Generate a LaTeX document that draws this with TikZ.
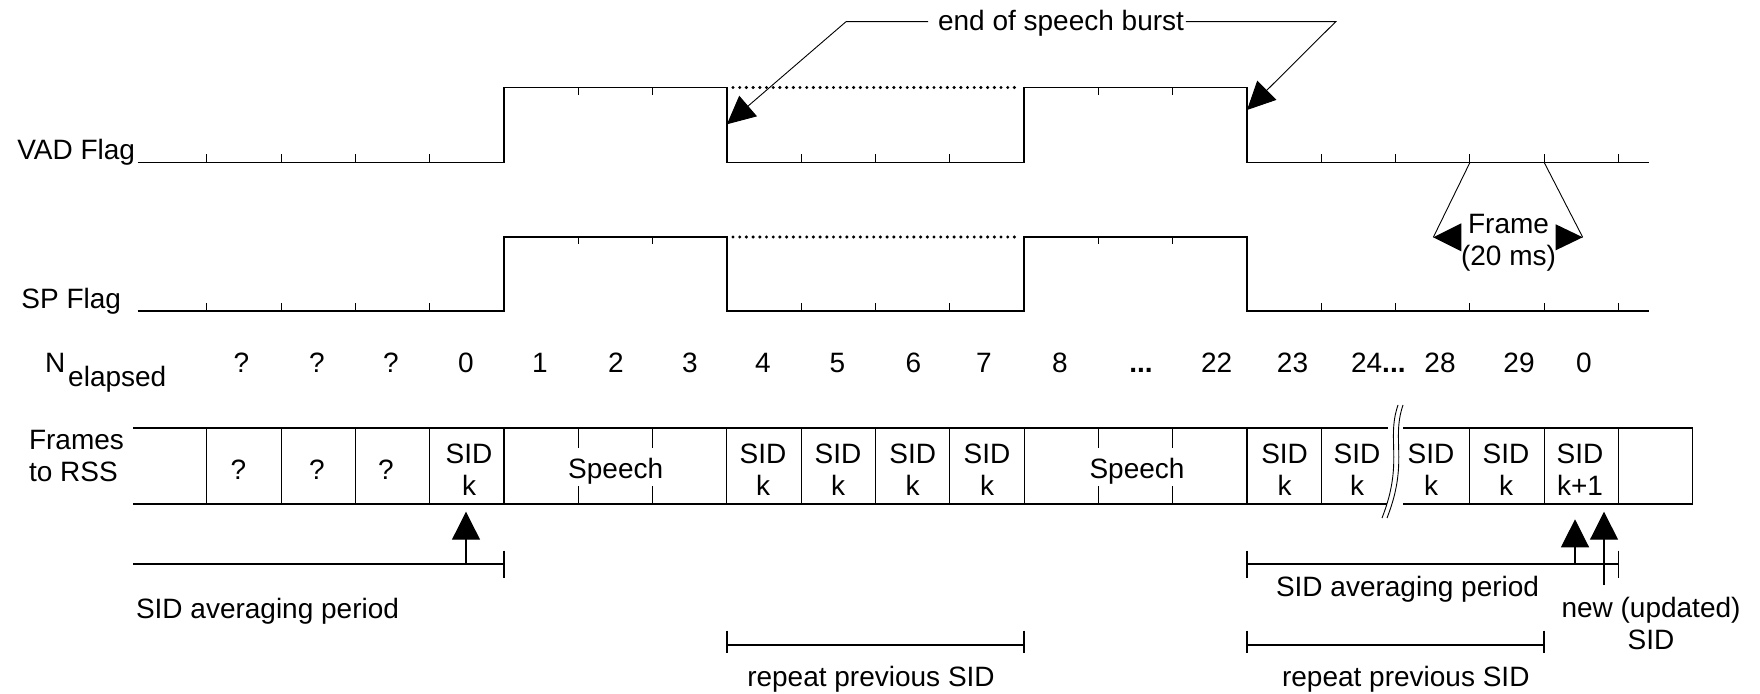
\documentclass[tikz,border=0pt]{standalone}
\usepackage{fontspec}
\setmainfont{Liberation Sans}
\usetikzlibrary{arrows.meta,calc}
\begin{document}
\begin{tikzpicture}[x=0.5pt,y=-0.5pt,
  lbl/.style={font=\fontsize{14}{16}\selectfont, inner sep=0pt, outer sep=0pt},
  sig/.style={line width=0.8pt},
  thin/.style={line width=0.55pt},
  tickl/.style={line width=0.5pt},
  rep/.style={line width=1.1pt},
  dots/.style={line width=1.7pt, dash pattern=on 0pt off 3.35pt, line cap=round},
  bigarrow/.style={thin, -{Triangle[length=14pt,width=14pt]}},
  leader/.style={line width=0.45pt, -{Triangle[length=14pt,width=13.5pt]}}
]
\useasboundingbox (0,0) rectangle (1760,694);

% ---------------- VAD flag ----------------
\draw[sig] (137.5,162.5) -| (504,87.5) -| (726.9,162.5) -| (1024.1,87.5) -| (1247,162.5) -- (1649,162.5);
\foreach \x in {206.8,281.1,355.4,429.7,801.2,875.5,949.8,1321.3,1395.6,1469.9,1544.2,1618.5}
  \draw[tickl] (\x,162.5) -- (\x,154.5);
\foreach \x in {578.3,652.6,1098.4,1172.7}
  \draw[tickl] (\x,87.5) -- (\x,95);
\draw[dots] (733,87.5) -- (1021,87.5);
\node[lbl, anchor=base east] (vad) at (135,160) {VAD Flag};

% ---------------- SP flag ----------------
\draw[sig] (137.5,311) -| (504,237) -| (726.9,311) -| (1024.1,237) -| (1247,311) -- (1649,311);
\foreach \x in {206.8,281.1,355.4,429.7,801.2,875.5,949.8,1321.3,1395.6,1469.9,1544.2,1618.5}
  \draw[tickl] (\x,311) -- (\x,303);
\foreach \x in {578.3,652.6,1098.4,1172.7}
  \draw[tickl] (\x,237) -- (\x,244.5);
\draw[dots] (733,237) -- (1021,237);
\node[lbl, anchor=base east] (sp) at (121,308.5) {SP Flag};

% ---------------- end of speech burst ----------------
\node[lbl, anchor=base] (esb) at (1061,31) {end of speech burst};
\coordinate (e1) at (846,21.7);
\coordinate (e2) at (1335.7,21.7);
\coordinate (tA) at (726.9,124.3);
\coordinate (tB) at (1247,110);
\draw[leader] ($(esb.west |- e1)+(-10,0)$) -- (e1) -- (tA);
\draw[leader] ($(esb.east |- e2)+(2,0)$) -- (e2) -- (tB);

% ---------------- Frame (20 ms) ----------------
\coordinate (f1) at (1469.9,162.5);
\coordinate (f2) at (1544.2,162.5);
\coordinate (fl) at (1433.3,237.3);
\coordinate (fr) at (1582.7,237.3);
\draw[line width=0.45pt] (f1) -- (fl);
\draw[line width=0.45pt] (f2) -- (fr);
\fill (fl) -- ++(28,-14) -- ++(0,28) -- cycle;
\fill (fr) -- ++(-27,-13) -- ++(0,26) -- cycle;
\node[lbl, align=center] (frm) at (1508.5,242.5) {Frame\\(20 ms)};

% ---------------- N elapsed ----------------
\node[lbl, anchor=base west] (nel) at (45,373) {N\kern1.5pt\lower7pt\hbox{elapsed}};
\foreach \x/\t [count=\i] in {241.5/?, 317/?, 391/?, 466/0, 540/1, 616/2, 690/3, 763/4, 837.5/5, 913.5/6, 984/7, 1060/8}
  \node[lbl, anchor=base] (n\i) at (\x,373) {\t};
\node[lbl, anchor=base] (ndots) at (1141,373) {\textbf{...}};
\node[lbl, anchor=base] (n22) at (1216.7,373) {22};
\node[lbl, anchor=base] (n23) at (1292.5,373) {23};
\node[lbl, anchor=base] (n24) at (1378.3,373) {24\textbf{...}};
\node[lbl, anchor=base] (n28) at (1440,373) {28};
\node[lbl, anchor=base] (n29) at (1519,373) {29};
\node[lbl, anchor=base] (n0b) at (1584,373) {0};

% ---------------- Frames to RSS ----------------
\node[lbl, align=left, anchor=west] (ftr) at (29,455.6) {Frames\\to RSS};
\draw[thin] (133,428) -- (1388.3,428) (1403.3,428) -- (1692.8,428) -- (1692.8,504) -- (1403.3,504) (1386.7,504) -- (133,504);
\foreach \x in {206.8,281.1,355.4,429.7,504,726.9,801.2,875.5,949.8,1024.1,1247,1321.3,1469.9,1544.2,1618.5}
  \draw[thin] (\x,428) -- (\x,504);
\foreach \x in {578.3,652.6,1098.4,1172.7}
  \draw[thin] (\x,428) -- (\x,448) (\x,486) -- (\x,504);
\draw[line width=0.45pt] (1398,405) .. controls (1386,440) and (1404,462) .. (1382,518);
\draw[line width=0.45pt] (1403,405) .. controls (1391,440) and (1409,462) .. (1387,518);

\node[lbl, anchor=base] (q1) at (238.5,480) {?};
\node[lbl, anchor=base] (q2) at (317,480) {?};
\node[lbl, anchor=base] (q3) at (386,480) {?};
\node[lbl, align=center] (s0) at (469,469.5) {SID\\k};
\node[lbl, anchor=base] (sp1) at (615.7,479) {Speech};
\node[lbl, align=center] (s4) at (763,469.5) {SID\\k};
\node[lbl, align=center] (s5) at (838,469.5) {SID\\k};
\node[lbl, align=center] (s6) at (912.7,469.5) {SID\\k};
\node[lbl, align=center] (s7) at (987,469.5) {SID\\k};
\node[lbl, anchor=base] (sp2) at (1137,479) {Speech};
\node[lbl, align=center] (s23) at (1284.6,469.5) {SID\\k};
\node[lbl, align=center] (s24) at (1357,469.5) {SID\\k};
\node[lbl, align=center] (s28) at (1431,469.5) {SID\\k};
\node[lbl, align=center] (s29) at (1506,469.5) {SID\\k};
\node[lbl, align=center] (s30) at (1580,469.5) {SID\\k+1};

% ---------------- left averaging period ----------------
\coordinate (av1a) at (133,564);
\coordinate (av1b) at (504,564);
\draw[thin] (av1a) -- (av1b) (504,550.7) -- (504,578.3);
\coordinate (ar0b) at (466,564);
\coordinate (ar0t) at (466,511.7);
\draw[bigarrow] (ar0b) -- (ar0t);
\node[lbl, anchor=base west] (avg1) at (136,618) {SID averaging period};

% ---------------- repeat previous SID ----------------
\draw[rep] (726.9,645) -- (1024.1,645) (726.9,630.7) -- (726.9,653.3) (1024.1,630.7) -- (1024.1,653.3);
\node[lbl, anchor=base] (rep1) at (871,686) {repeat previous SID};
\draw[rep] (1247,645) -- (1544.2,645) (1247,630.7) -- (1247,653.3) (1544.2,630.7) -- (1544.2,653.3);
\node[lbl, anchor=base] (rep2) at (1405.8,686) {repeat previous SID};

% ---------------- right averaging period ----------------
\draw[thin] (1247,564) -- (1618.5,564) (1247,550.7) -- (1247,578.3) (1618.5,550.7) -- (1618.5,578.3);
\node[lbl, anchor=base west] (avg2) at (1276,596.5) {SID averaging period};
\coordinate (ar1b) at (1575,564);
\coordinate (ar1t) at (1575,519.3);
\coordinate (ar2b) at (1604,585);
\coordinate (ar2t) at (1604,511.7);
\draw[bigarrow] (ar1b) -- (ar1t);
\draw[bigarrow] (ar2b) -- (ar2t);
\node[lbl, align=center] (nu) at (1651,623) {new (updated)\\SID};
\end{tikzpicture}
\end{document}
